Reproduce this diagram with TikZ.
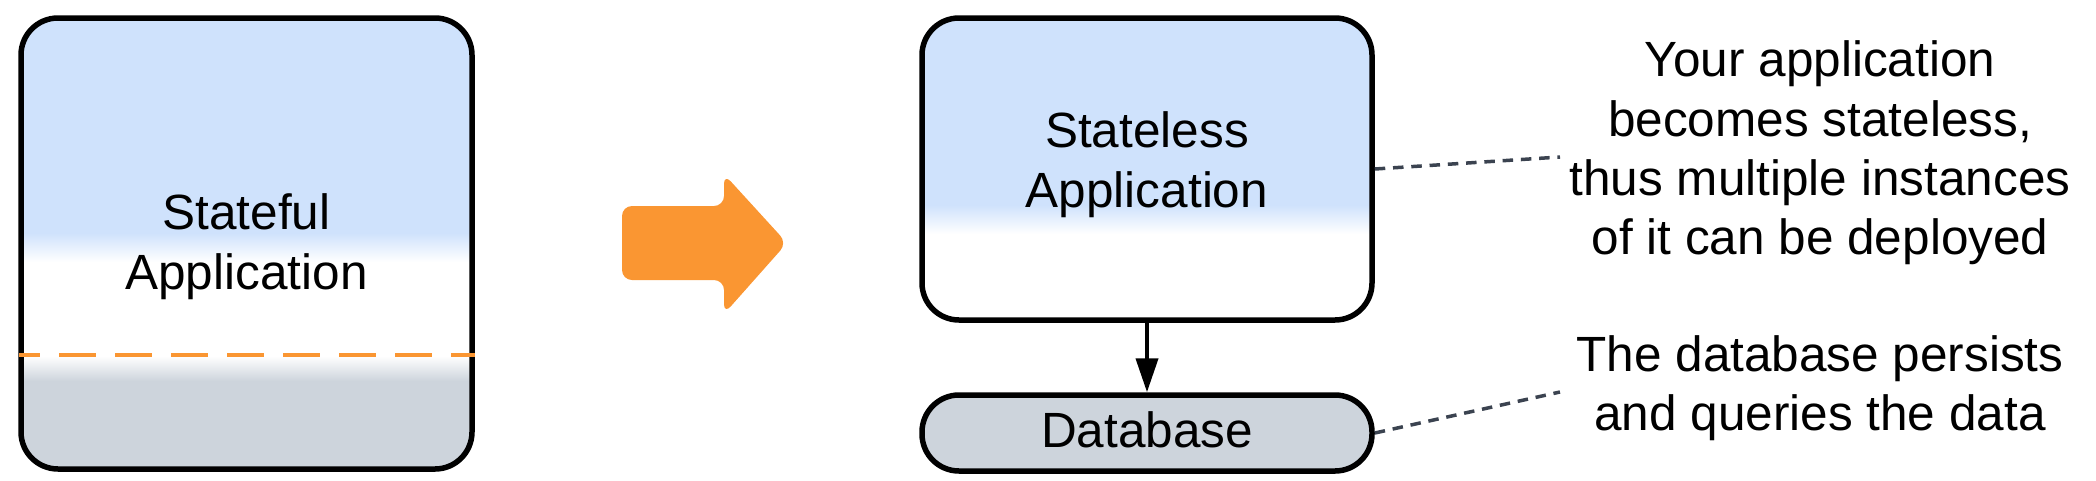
\documentclass[tikz,border=0pt]{standalone}
\usepackage{fontspec}
\setmainfont{Liberation Sans}
\usetikzlibrary{arrows.meta}
\definecolor{appblue}{HTML}{CFE2FC}
\definecolor{dbgray}{HTML}{CDD4DC}
\definecolor{orangeA}{HTML}{FA9632}
\definecolor{slate}{HTML}{3B4350}
\begin{document}
\begin{tikzpicture}[x=1pt,y=-1pt,
  box/.style={draw=black, line width=5.5pt, rounded corners=37pt, inner sep=0pt, align=center, font=\fontsize{49.5}{60}\selectfont},
  note/.style={align=center, font=\fontsize{49.5}{59.3}\selectfont, inner sep=0pt},
  leader/.style={draw=slate, line width=3.5pt, dash pattern=on 10.5pt off 7.8pt},
  divider/.style={draw=orangeA, line width=4pt, dash pattern=on 37pt off 19pt, dash phase=15.7pt},
]
\useasboundingbox (0,0) rectangle (2096,480);
% left box fills
\begin{scope}
\clip[rounded corners=37pt] (21,18) rectangle (472,469);
\fill[appblue] (21,18) rectangle (472,233);
\shade[top color=appblue, bottom color=white] (21,233) rectangle (472,262);
\fill[white] (21,262) rectangle (472,356);
\shade[top color=white, bottom color=dbgray] (21,356) rectangle (472,381);
\fill[dbgray] (21,381) rectangle (472,469);
\end{scope}
\node[box, minimum width=451pt, minimum height=451pt] (stateful) at (246.5,243.5) {\rule{0pt}{43pt}Stateful\\Application};
\draw[divider] (19,355) -- (475,355);
% big orange arrow
\fill[orangeA, rounded corners=10pt] (622,206) -- (724,206) -- (724,174) -- (787,243) -- (724,314) -- (724,280) -- (622,280) -- cycle;
% right box fills
\begin{scope}
\clip[rounded corners=37pt] (922,18) rectangle (1372,320);
\fill[appblue] (922,18) rectangle (1372,205);
\shade[top color=appblue, bottom color=white] (922,205) rectangle (1372,234);
\fill[white] (922,234) rectangle (1372,320);
\end{scope}
\node[box, minimum width=450pt, minimum height=302pt] (stateless) at (1147,169) {Stateless\\Application\rule[-19.4pt]{0pt}{0pt}};
\node[box, fill=dbgray, minimum width=450pt, minimum height=76pt] (db) at (1147,433) {Database\rule[-6pt]{0pt}{0pt}};
\draw[line width=4pt, -{Triangle[width=22pt,length=34pt]}] (stateless.south) -- (db.north);
% notes
\node[note] (note1) at (1820,153) {Your application\\becomes stateless,\\thus multiple instances\\of it can be deployed};
\node[note] (note2) at (1820,388.5) {The database persists\\and queries the data};
\coordinate (n1) at (1560,157);
\coordinate (n2) at (1560,392);
\draw[leader] (stateless.east) -- (n1);
\draw[leader] (db.east) -- (n2);
\end{tikzpicture}
\end{document}
